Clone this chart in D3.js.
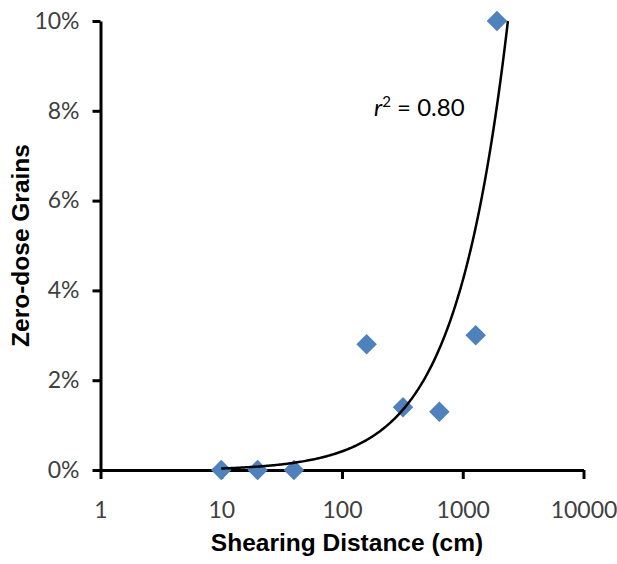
<!DOCTYPE html>
<html>
<head>
	<title>Zero-dose grains vs shearing distance</title>
	<script src="https://cdnjs.cloudflare.com/ajax/libs/d3/7.8.5/d3.min.js" charset="utf-8"></script>
	<style>
		body { margin: 0; background: #fff; }
		.axis path, .axis line {
			fill: none;
			stroke: black;
			stroke-width: 3px;
		}
		.tick text {
			font-family: Lato, "Open Sans", sans-serif;
			font-size: 23px;
			fill: #404040;
		}
		.title {
			font-family: "Liberation Sans", Arial, sans-serif;
			font-weight: bold;
			font-size: 24.5px;
			fill: black;
		}
		.rsq {
			font-family: Lato, "Open Sans", sans-serif;
			font-size: 24px;
			fill: black;
		}
	</style>
</head>
<body>

	<svg id="main" width="617" height="564"></svg>

	<script>

		// shearing distance (cm) and fraction of zero-dose grains
		var distances = [10, 20, 40, 160, 320, 640, 1280, 1920];
		var zeroDose = [0, 0, 0, 0.028, 0.014, 0.013, 0.030, 0.100];

		var xTicks = [1, 10, 100, 1000, 10000];
		var yTicks = [0, 0.02, 0.04, 0.06, 0.08, 0.10];

		var X_LEFT = 100.5, X_RIGHT = 583.5;
		var Y_TOP = 21, Y_BOTTOM = 470;

		var svg = d3.select('#main');

		var x = d3.scaleLog().domain([1, 10000]).range([X_LEFT, X_RIGHT]);
		var y = d3.scaleLinear().domain([0, 0.10]).range([Y_BOTTOM, Y_TOP]);

		// axes
		var yAxis = d3.axisLeft(y)
			.tickValues(yTicks)
			.tickFormat(d3.format('.0%'))
			.tickSize(8)
			.tickSizeOuter(0)
			.tickPadding(13);

		var xAxis = d3.axisBottom(x)
			.tickValues(xTicks)
			.tickFormat(d3.format('d'))
			.tickSize(9)
			.tickSizeOuter(0)
			.tickPadding(23);

		svg.append('g')
			.attr('class', 'axis')
			.attr('transform', 'translate(' + X_LEFT + ',0)')
			.call(yAxis);

		svg.append('g')
			.attr('class', 'axis')
			.attr('transform', 'translate(0,' + Y_BOTTOM + ')')
			.call(xAxis);

		// points
		var points = distances.map(function(d, i) {
			return { x: d, y: zeroDose[i] };
		});

		svg.append('g').selectAll('path')
			.data(points)
			.enter().append('path')
			.attr('d', d3.symbol().type(d3.symbolSquare).size(210))
			.attr('transform', function(d) {
				return 'translate(' + x(d.x) + ',' + y(d.y) + ') rotate(45)';
			})
			.attr('fill', '#4f81bd');

		// linear trend line (least squares), drawn on the log axis
		var mx = d3.mean(distances), my = d3.mean(zeroDose);
		var sxy = 0, sxx = 0;
		for (var i = 0; i < distances.length; i++) {
			sxy += (distances[i] - mx) * (zeroDose[i] - my);
			sxx += (distances[i] - mx) * (distances[i] - mx);
		}
		var slope = sxy / sxx;
		var intercept = my - slope * mx;

		var xStart = d3.min(distances);
		var xEnd = (y.domain()[1] - intercept) / slope;
		var steps = 200;
		var trend = d3.range(steps + 1).map(function(k) {
			var lx = Math.log10(xStart) + (Math.log10(xEnd) - Math.log10(xStart)) * k / steps;
			var xv = Math.pow(10, lx);
			return { x: xv, y: intercept + slope * xv };
		});

		var line = d3.line()
			.x(function(d) { return x(d.x); })
			.y(function(d) { return y(d.y); });

		svg.append('path')
			.datum(trend)
			.attr('d', line)
			.attr('fill', 'none')
			.attr('stroke', 'black')
			.attr('stroke-width', 2.5);

		// r squared label
		var rsq = svg.append('text')
			.attr('class', 'rsq')
			.attr('x', 374)
			.attr('y', 116);
		rsq.append('tspan').attr('font-style', 'italic').text('r');
		rsq.append('tspan').attr('font-size', '15px').attr('dy', -9).text('2');
		rsq.append('tspan').attr('dy', 9).text(' = 0.80');

		// axis titles
		svg.append('text')
			.attr('class', 'title')
			.attr('x', 347)
			.attr('y', 551)
			.attr('text-anchor', 'middle')
			.text('Shearing Distance (cm)');

		svg.append('text')
			.attr('class', 'title')
			.attr('transform', 'translate(29,' + ((Y_TOP + Y_BOTTOM) / 2) + ') rotate(-90)')
			.attr('text-anchor', 'middle')
			.text('Zero-dose Grains');

	</script>
</body>
</html>
